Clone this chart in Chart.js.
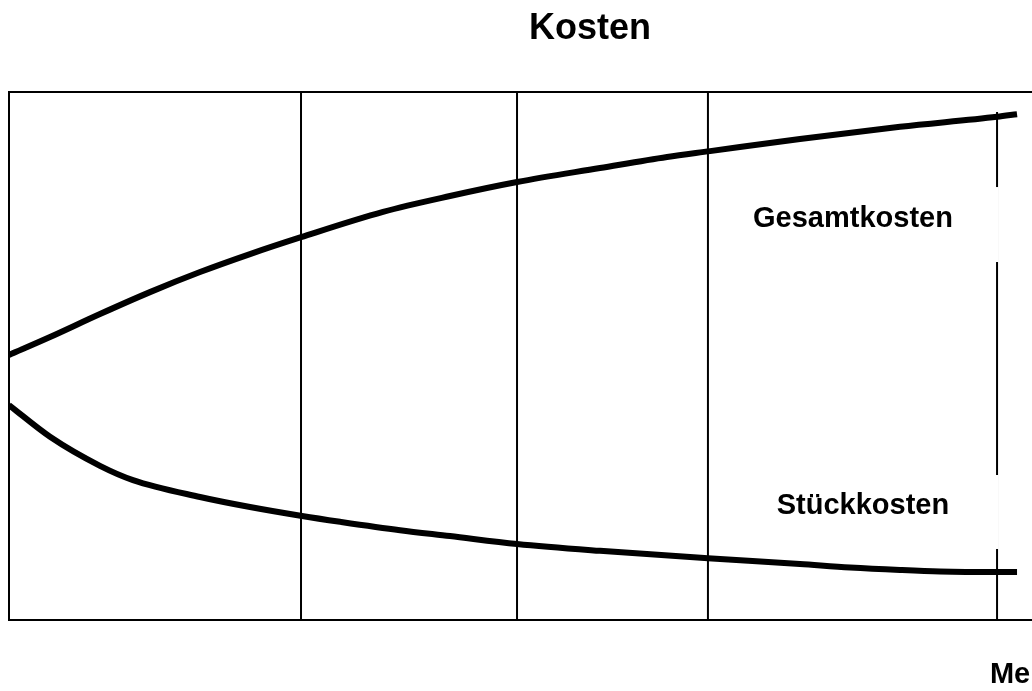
<!DOCTYPE html>
<html lang="de">
<head>
<meta charset="utf-8">
<title>Kosten</title>
<script src="https://cdn.jsdelivr.net/npm/chart.js@4"></script>
<style>
  html, body { margin: 0; padding: 0; background: #fff; overflow: hidden; }
  #wrap { width: 1178px; height: 691px; }
</style>
</head>
<body>
<div id="wrap"><canvas id="kostenChart" width="1178" height="691"></canvas></div>
<script>
// Menge (x) von 0 bis 100, Kosten (y) von 0 bis 100
const menge = [0, 3.53, 7.83, 12.13, 16.44, 20.74, 25.13, 32.19, 37.95, 43.72, 50.86, 56.63, 60.33, 68.07, 76.68, 85.03, 86.75];
const gesamtkosten = [50.2, 53.6, 57.95, 62.1, 65.9, 69.3, 72.5, 77.3, 80.3, 82.95, 85.6, 87.7, 88.8, 91.1, 93.4, 95.3, 95.8];

const mengeStueck = [0, 3.53, 7.83, 10.67, 16.44, 20.74, 25.22, 28.49, 33.65, 37.95, 43.72, 50.86, 60.15, 68.07, 72.38, 76.68, 80.12, 85.03, 86.75];
const stueckkosten = [40.7, 34.7, 29.2, 26.5, 23.3, 21.4, 19.7, 18.6, 17.0, 15.9, 14.4, 13.1, 11.7, 10.6, 9.94, 9.47, 9.19, 9.09, 9.09];

// senkrechte Trennlinien
const trennlinien = [25.13, 43.72, 60.15, 85.03];
const trennOben = [100, 100, 100, 96.2];

const titel = 'Kosten';
const achsenTitel = 'Menge';
const kurvenNamen = ['Gesamtkosten', 'Stückkosten'];

const schrift = "'Liberation Sans', Arial, sans-serif";

function punkte(xs, ys) {
  return xs.map((x, i) => ({ x: x, y: ys[i] }));
}

const datasets = [
  {
    label: kurvenNamen[0],
    data: punkte(menge, gesamtkosten),
    borderColor: '#000',
    borderWidth: 6,
    pointRadius: 0,
    cubicInterpolationMode: 'monotone',
    fill: false
  },
  {
    label: kurvenNamen[1],
    data: punkte(mengeStueck, stueckkosten),
    borderColor: '#000',
    borderWidth: 6,
    pointRadius: 0,
    cubicInterpolationMode: 'monotone',
    fill: false
  }
];

trennlinien.forEach((x, i) => {
  datasets.push({
    label: 'linie' + i,
    data: [{ x: x, y: 0 }, { x: x, y: trennOben[i] }],
    borderColor: '#000',
    borderWidth: 2,
    pointRadius: 0,
    fill: false
  });
});

// Rahmen und Beschriftungen
const beschriftung = {
  id: 'beschriftung',
  beforeDatasetsDraw(chart) {
    const { ctx, chartArea } = chart;
    ctx.save();
    ctx.strokeStyle = '#000';
    ctx.lineWidth = 2;
    ctx.strokeRect(chartArea.left, chartArea.top, chartArea.right - chartArea.left, chartArea.bottom - chartArea.top);
    ctx.restore();
  },
  afterDatasetsDraw(chart) {
    const { ctx } = chart;
    const x = chart.scales.x;
    const y = chart.scales.y;
    ctx.save();

    // weisse Kaesten hinter den Kurvennamen
    ctx.fillStyle = '#fff';
    const kaesten = [[62.9, 82.0, 85.15, 67.8], [62.9, 27.46, 85.15, 13.45]];
    kaesten.forEach(k => {
      const x1 = x.getPixelForValue(k[0]);
      const y1 = y.getPixelForValue(k[1]);
      const x2 = x.getPixelForValue(k[2]);
      const y2 = y.getPixelForValue(k[3]);
      ctx.fillRect(x1, y1, x2 - x1, y2 - y1);
    });

    ctx.fillStyle = '#000';
    ctx.font = 'bold 29px ' + schrift;
    ctx.textBaseline = 'middle';
    ctx.textAlign = 'center';
    ctx.fillText(kurvenNamen[0], x.getPixelForValue(72.63), y.getPixelForValue(75.95));
    ctx.fillText(kurvenNamen[1], x.getPixelForValue(73.49), y.getPixelForValue(21.6));

    ctx.textAlign = 'left';
    ctx.fillText(achsenTitel, x.getPixelForValue(84.42), y.getPixelForValue(-10.4));
    ctx.restore();
  }
};

const ctx = document.getElementById('kostenChart').getContext('2d');
const chart = new Chart(ctx, {
  type: 'line',
  data: { datasets: datasets },
  options: {
    responsive: false,
    animation: false,
    layout: {
      padding: { left: 9, right: 7, top: 0, bottom: 71 }
    },
    plugins: {
      legend: { display: false },
      tooltip: { enabled: false },
      title: {
        display: true,
        text: titel,
        color: '#000',
        font: { family: schrift, size: 36, weight: 'bold' },
        padding: { top: 7, bottom: 41.8 }
      }
    },
    scales: {
      x: {
        type: 'linear',
        min: 0,
        max: 100,
        display: false
      },
      y: {
        type: 'linear',
        min: 0,
        max: 100,
        display: false
      }
    }
  },
  plugins: [beschriftung]
});
</script>
</body>
</html>
